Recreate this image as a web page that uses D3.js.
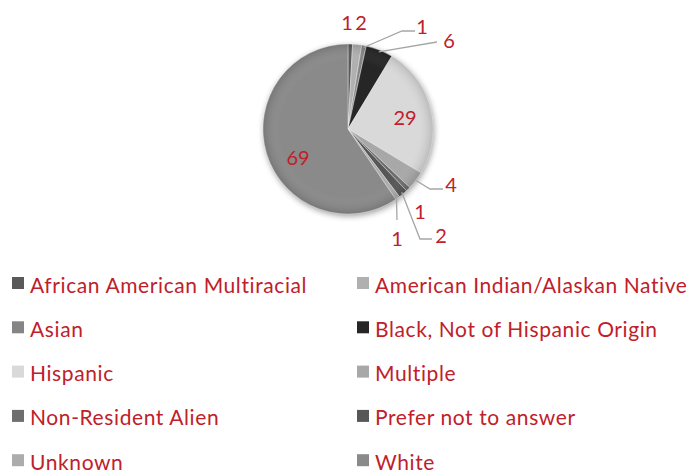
<!DOCTYPE html>
<html><head><meta charset="utf-8">
<script src="https://cdn.jsdelivr.net/npm/d3@7"></script>
<style>body{margin:0;background:#fff}svg{display:block}</style>
</head><body>
<svg id="c" width="689" height="474"></svg>
<script>
const categories = ["African American Multiracial","American Indian/Alaskan Native","Asian","Black, Not of Hispanic Origin","Hispanic","Multiple","Non-Resident Alien","Prefer not to answer","Unknown","White"];
const values = [1,2,1,6,29,4,1,2,1,69];
const colors = ["#5a5a5a","#b0b0b0","#858585","#262626","#d9d9d9","#a8a8a8","#6e6e6e","#575757","#acacac","#8a8a8a"];
// label placement (style only)
const labelPos = [
  {x:347,y:22,lead:null},
  {x:361,y:22,lead:null},
  {x:422,y:26,lead:[[402,31],[415,31]]},
  {x:449,y:40,lead:[[437,42],[437,42]]},
  {x:405,y:117,lead:null},
  {x:451,y:184,lead:[[430,189],[443,189]]},
  {x:420,y:211,lead:null},
  {x:441,y:235,lead:[[420,239],[432,239]]},
  {x:397,y:238,lead:[[397,220],[397,220]]},
  {x:298,y:157,lead:null}
];
const svg = d3.select("#c");
const cx = 348, cy = 129, R = 85;
const defs = svg.append("defs");
const f = defs.append("filter").attr("id","sh").attr("x","-20%").attr("y","-20%").attr("width","140%").attr("height","140%");
f.append("feGaussianBlur").attr("stdDeviation",3);
const rg = defs.append("radialGradient").attr("id","shade").attr("cx","50%").attr("cy","50%").attr("r","50%");
rg.append("stop").attr("offset","0%").attr("stop-color","#fff").attr("stop-opacity",0.0);
rg.append("stop").attr("offset","80%").attr("stop-color","#fff").attr("stop-opacity",0.0);
rg.append("stop").attr("offset","100%").attr("stop-color","#000").attr("stop-opacity",0.14);

const pie = d3.pie().sort(null).value(d=>d)(values);
const arc = d3.arc().innerRadius(0).outerRadius(R);
const g = svg.append("g").attr("transform",`translate(${cx},${cy})`);
g.append("circle").attr("r",R).attr("cx",1).attr("cy",2).attr("fill","#000").attr("opacity",0.4).attr("filter","url(#sh)");
g.selectAll("path.s").data(pie).join("path").attr("class","s")
  .attr("d",arc).attr("fill",(d,i)=>colors[i]).attr("stroke","#fff").attr("stroke-width",0.4);
g.append("circle").attr("r",R).attr("fill","url(#shade)");

// leader lines
const lg = svg.append("g");
pie.forEach((d,i)=>{
  const lp = labelPos[i];
  if(!lp.lead) return;
  const a = (d.startAngle+d.endAngle)/2;
  const sx = cx + (R-2)*Math.sin(a), sy = cy - (R-2)*Math.cos(a);
  const pts = [[sx,sy]].concat(lp.lead);
  lg.append("path").attr("d",d3.line()(pts)).attr("fill","none").attr("stroke","#a6a6a6").attr("stroke-width",1.3);
});
svg.append("g").selectAll("text").data(pie).join("text")
  .attr("x",(d,i)=>labelPos[i].x).attr("y",(d,i)=>labelPos[i].y)
  .attr("text-anchor","middle").attr("dominant-baseline","central")
  .attr("font-family","Lato, 'Open Sans', sans-serif").attr("font-size",20)
  .attr("fill","#c0202a").text(d=>d.data);

// legend
const leg = svg.append("g");
categories.forEach((c,i)=>{
  const col = i%2, row = Math.floor(i/2);
  const x = col===0 ? 12 : 357;
  const y = 283 + row*44.3;
  leg.append("rect").attr("x",x).attr("y",y-6).attr("width",12).attr("height",12).attr("fill",colors[i]);
  leg.append("text").attr("x",x+18).attr("y",y+1).attr("dominant-baseline","central")
    .attr("font-family","Lato, 'Open Sans', sans-serif").attr("font-size",21)
    .attr("letter-spacing",0.6)
    .attr("fill","#c0202a").text(c);
});
</script>
</body></html>
